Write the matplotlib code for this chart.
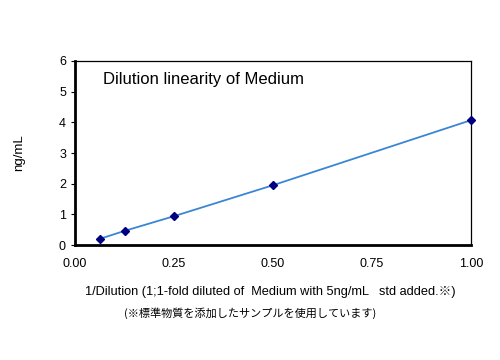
import matplotlib.pyplot as plt

plt.rcParams['font.family'] = ['Liberation Sans', 'Noto Sans CJK JP', 'DejaVu Sans']

# data
inv_dilution = [0.0625, 0.125, 0.25, 0.5, 1.0]
conc = [0.20, 0.46, 0.94, 1.95, 4.07]

fig = plt.figure(figsize=(5, 3.6), dpi=100)
ax = fig.add_axes([0.15, 0.3194, 0.792, 0.5112])

ax.plot(inv_dilution, conc, color='#3a86d4', linewidth=1.3, zorder=2)
ax.plot(inv_dilution, conc, linestyle='none', marker='D', markersize=4.5,
        color='#000080', zorder=3, clip_on=False)

ax.set_xlim(0, 1)
ax.set_ylim(0, 6)
ax.set_xticks([0, 0.25, 0.5, 0.75, 1.0])
ax.set_xticklabels(['0.00', '0.25', '0.50', '0.75', '1.00'])
ax.set_yticks(range(7))
ax.tick_params(axis='both', labelsize=9, length=3, width=0.8)
ax.tick_params(axis='x', length=0, pad=9)

for side in ['left', 'bottom']:
    ax.spines[side].set_linewidth(2)
for side in ['top', 'right']:
    ax.spines[side].set_linewidth(0.9)

ax.text(0.07, 0.9, 'Dilution linearity of Medium', transform=ax.transAxes,
        fontsize=12, va='center', ha='left')

ax.set_ylabel('ng/mL', fontsize=9.5, labelpad=24)
fig.text(0.54, 0.19, '1/Dilution (1;1-fold diluted of  Medium with 5ng/mL   std added.\u203b)',
         fontsize=9.2, ha='center', va='center')
fig.text(0.5, 0.13, '(\u203b標準物質を添加したサンプルを使用しています)',
         fontsize=8, ha='center', va='center',
         family=['Noto Sans CJK JP', 'DejaVu Sans'])

fig.savefig('out.png', dpi=100)
